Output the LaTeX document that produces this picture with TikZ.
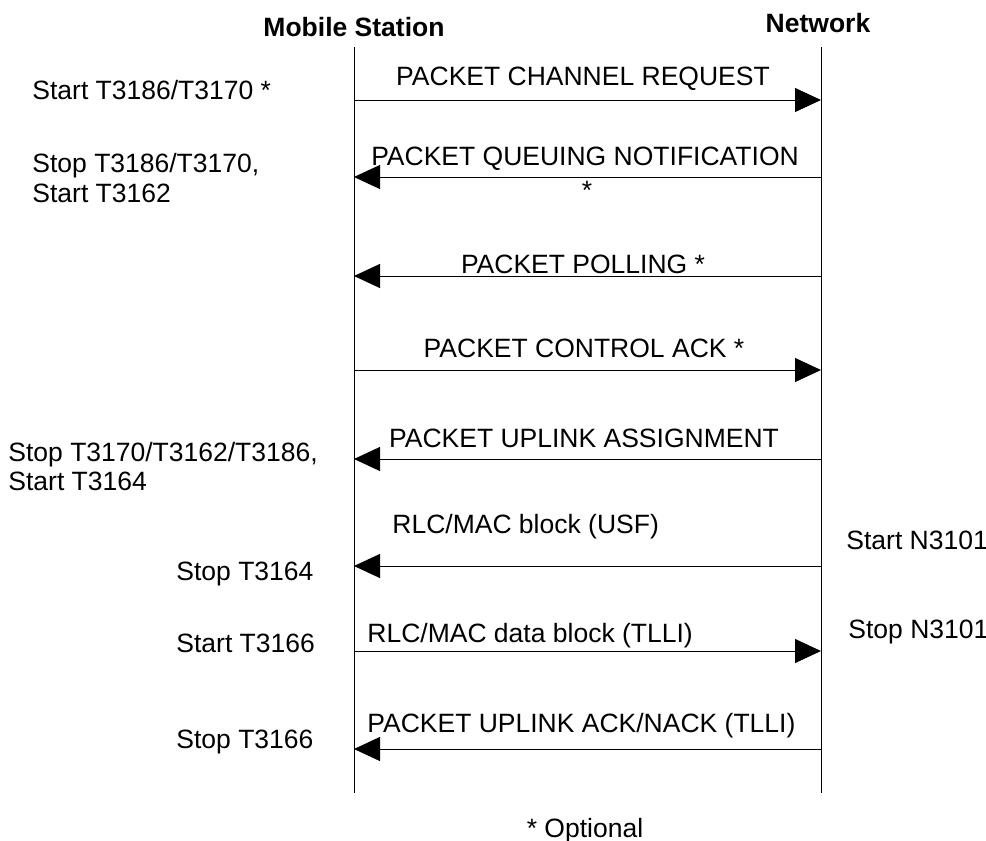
\documentclass[tikz,border=0pt]{standalone}
\usepackage{fontspec}
\setmainfont{Liberation Sans}
\usetikzlibrary{arrows.meta}

\tikzstyle{lifeline}=[line width=0.5pt]
\tikzstyle{msg}=[line width=0.5pt, -{Triangle[length=13pt, width=12pt]}]
\tikzstyle{msg-text}=[inner sep=0pt, font=\fontsize{13.25}{15}\selectfont]
\tikzstyle{head-text}=[inner sep=0pt, font=\fontsize{13.25}{15}\selectfont\bfseries]
\tikzstyle{side-text}=[inner sep=0pt, align=left, font=\fontsize{13.25}{15}\selectfont]

\begin{document}
\begin{tikzpicture}[x=0.5pt, y=-0.5pt]
  \useasboundingbox (0,0) rectangle (986,841);

  % headers and lifelines
  \node (ms-head) at (354, 36) [head-text, anchor=base] {Mobile Station};
  \node (nw-head) at (818, 32) [head-text, anchor=base] {Network};
  \coordinate (ms-top) at (354, 47);
  \coordinate (ms-bot) at (354, 793);
  \coordinate (nw-top) at (821, 47);
  \coordinate (nw-bot) at (821, 793);
  \draw[lifeline] (ms-top) -- (ms-bot);
  \draw[lifeline] (nw-top) -- (nw-bot);

  % message end points
  \coordinate (ms1) at (354, 100);  \coordinate (nw1) at (821, 100);
  \coordinate (ms2) at (354, 177);  \coordinate (nw2) at (821, 177);
  \coordinate (ms3) at (354, 276);  \coordinate (nw3) at (821, 276);
  \coordinate (ms4) at (354, 370);  \coordinate (nw4) at (821, 370);
  \coordinate (ms5) at (354, 459);  \coordinate (nw5) at (821, 459);
  \coordinate (ms6) at (354, 566);  \coordinate (nw6) at (821, 566);
  \coordinate (ms7) at (354, 651);  \coordinate (nw7) at (821, 651);
  \coordinate (ms8) at (354, 749);  \coordinate (nw8) at (821, 749);

  \draw[msg] (ms1) -- (nw1);
  \draw[msg] (nw2) -- (ms2);
  \draw[msg] (nw3) -- (ms3);
  \draw[msg] (ms4) -- (nw4);
  \draw[msg] (nw5) -- (ms5);
  \draw[msg] (nw6) -- (ms6);
  \draw[msg] (ms7) -- (nw7);
  \draw[msg] (nw8) -- (ms8);

  % message labels
  \node (msg1) at (583, 85) [msg-text, anchor=base] {PACKET CHANNEL REQUEST};
  \node (msg2) at (585, 165) [msg-text, anchor=base] {PACKET QUEUING NOTIFICATION};
  \node (msg2-opt) at (587, 199) [msg-text, anchor=base] {*};
  \node (msg3) at (583, 273) [msg-text, anchor=base] {PACKET POLLING *};
  \node (msg4) at (584, 357) [msg-text, anchor=base] {PACKET CONTROL ACK *};
  \node (msg5) at (584, 447) [msg-text, anchor=base] {PACKET UPLINK ASSIGNMENT};
  \node (msg6) at (392, 533) [msg-text, anchor=base west] {RLC/MAC block (USF)};
  \node (msg7) at (367, 642) [msg-text, anchor=base west] {RLC/MAC data block (TLLI)};
  \node (msg8) at (367, 732) [msg-text, anchor=base west] {PACKET UPLINK ACK/NACK (TLLI)};

  % mobile station timers
  \node (ms-t1) at (32, 99) [side-text, anchor=base west] {Start T3186/T3170 *};
  \node (ms-t2) at (32, 172) [side-text, anchor=base west] {Stop T3186/T3170,};
  \node (ms-t2b) at (32, 202) [side-text, anchor=base west] {Start T3162};
  \node (ms-t3) at (8, 461) [side-text, anchor=base west] {Stop T3170/T3162/T3186,};
  \node (ms-t3b) at (8, 490) [side-text, anchor=base west] {Start T3164};
  \node (ms-t4) at (176, 580) [side-text, anchor=base west] {Stop T3164};
  \node (ms-t5) at (176, 652) [side-text, anchor=base west] {Start T3166};
  \node (ms-t6) at (176, 748) [side-text, anchor=base west] {Stop T3166};

  % network counters
  \node (nw-c1) at (846, 549) [side-text, anchor=base west] {Start N3101};
  \node (nw-c2) at (848, 638) [side-text, anchor=base west] {Stop N3101};

  \node (note) at (585, 837) [msg-text, anchor=base] {* Optional};
\end{tikzpicture}
\end{document}
